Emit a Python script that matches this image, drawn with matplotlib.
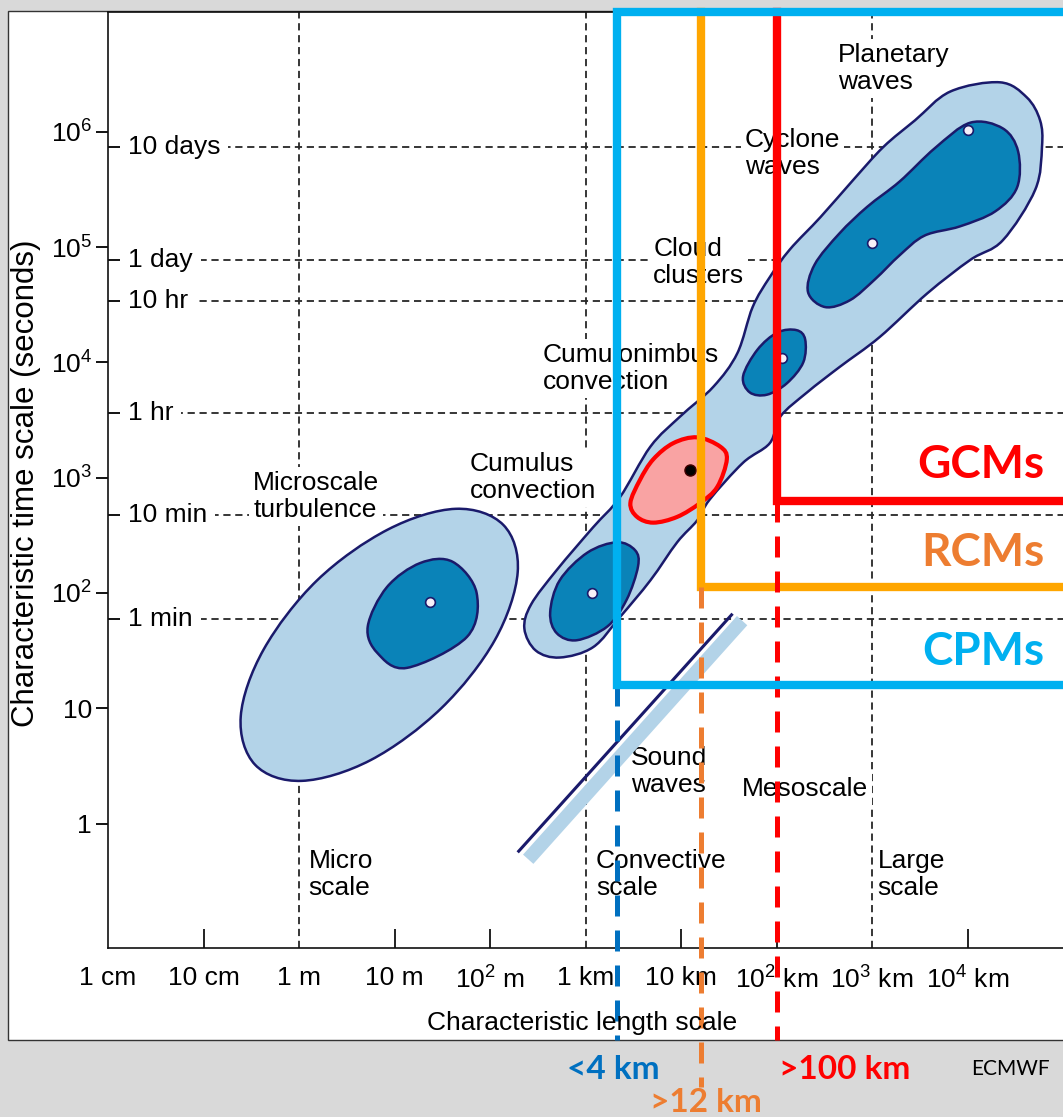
import numpy as np
import matplotlib
matplotlib.use("Agg")
import matplotlib.pyplot as plt
from matplotlib.path import Path
from matplotlib.patches import PathPatch, Rectangle

plt.rcParams['font.family'] = ['Liberation Sans', 'DejaVu Sans']
plt.rcParams['mathtext.fontset'] = 'custom'
plt.rcParams['mathtext.rm'] = 'Liberation Sans'

# both axes are in log10 units: x = log10(length / m), y = log10(time / s)
x_ticks = [-2, -1, 0, 1, 2, 3, 4, 5, 6, 7]
x_labels = ['1 cm', '10 cm', '1 m', '10 m', r'$\mathregular{10^2}$ m', '1 km',
            '10 km', r'$\mathregular{10^2}$ km', r'$\mathregular{10^3}$ km',
            r'$\mathregular{10^4}$ km']
y_ticks = [0, 1, 2, 3, 4, 5, 6]
y_labels = ['1', '10', r'$\mathregular{10^2}$', r'$\mathregular{10^3}$',
            r'$\mathregular{10^4}$', r'$\mathregular{10^5}$', r'$\mathregular{10^6}$']

time_names = ['10 days', '1 day', '10 hr', '1 hr', '10 min', '1 min']
time_levels = [5.87, 4.89, 4.53, 3.56, 2.68, 1.77]
scale_bounds = [0, 3, 6]          # 1 m, 1 km, 1000 km

# phenomena outlines (x, y)
micro_outer = [(2.14, 2.59), (1.64, 2.73), (0.93, 2.55), (0.19, 2.11), (-0.37, 1.51),
               (-0.61, 0.93), (-0.46, 0.51), (0.03, 0.37), (0.75, 0.55), (1.49, 1.00),
               (2.05, 1.59), (2.29, 2.18)]
micro_inner = [(1.61, 2.27), (1.86, 2.00), (1.76, 1.62), (1.13, 1.35), (0.82, 1.48),
               (0.72, 1.71), (0.92, 2.05), (1.27, 2.26)]

convective_outer = [(2.36, 1.69), (2.43, 1.90), (2.70, 2.20), (3.08, 2.57), (3.36, 2.83),
                    (3.68, 3.27), (3.99, 3.53), (4.34, 3.79), (4.59, 4.08), (4.75, 4.48),
                    (4.93, 4.74), (5.14, 4.98), (5.46, 5.26), (5.80, 5.58), (6.12, 5.87),
                    (6.45, 6.10), (6.82, 6.35), (7.34, 6.43), (7.62, 6.30), (7.76, 6.10),
                    (7.78, 5.87), (7.71, 5.50), (7.37, 5.06), (7.03, 4.89), (6.58, 4.60),
                    (6.08, 4.22), (5.66, 3.96), (5.32, 3.74), (5.04, 3.53), (4.93, 3.30),
                    (4.65, 3.13), (4.30, 2.81), (4.17, 2.63), (3.96, 2.44), (3.68, 2.11),
                    (3.36, 1.79), (3.08, 1.53), (2.73, 1.44), (2.48, 1.50)]
cumulus_inner = [(2.63, 1.83), (2.73, 2.11), (3.02, 2.35), (3.33, 2.44), (3.52, 2.37),
                 (3.55, 2.23), (3.43, 1.94), (3.23, 1.71), (2.91, 1.59), (2.70, 1.65)]
cumulonimbus_inner = [(4.65, 3.88), (4.80, 4.11), (5.01, 4.26), (5.21, 4.28), (5.30, 4.20),
                      (5.28, 4.00), (5.11, 3.82), (4.90, 3.72), (4.72, 3.74)]
synoptic_inner = [(5.33, 4.61), (5.40, 4.85), (5.66, 5.12), (5.95, 5.35), (6.29, 5.57),
                  (6.66, 5.86), (7.03, 6.08), (7.37, 6.03), (7.53, 5.83), (7.52, 5.52),
                  (7.29, 5.31), (6.92, 5.18), (6.55, 5.10), (6.29, 4.93), (6.03, 4.72),
                  (5.77, 4.54), (5.51, 4.48)]
cumulus_cpm = [(3.54, 2.66), (3.47, 2.78), (3.57, 2.98), (3.71, 3.16), (3.92, 3.30),
               (4.17, 3.35), (4.41, 3.27), (4.48, 3.16), (4.38, 2.92), (4.20, 2.78),
               (3.96, 2.66), (3.71, 2.61)]

peak_x = [1.37, 3.07, 5.06, 6.00, 7.01]
peak_y = [1.92, 2.00, 4.04, 5.04, 6.02]
cpm_peak = (4.09, 3.07)

sound_line_x = [2.29, 4.54]
sound_line_y = [-0.25, 1.82]
sound_band_x = [2.40, 4.64]
sound_band_y = [-0.31, 1.76]

labels = [('Planetary\nwaves', 5.64, 6.55), ('Cyclone\nwaves', 4.67, 5.81),
          ('Cloud\nclusters', 3.71, 4.87), ('Cumulonimbus\nconvection', 2.55, 3.95),
          ('Cumulus\nconvection', 1.79, 3.00), ('Microscale\nturbulence', -0.48, 2.84),
          ('Sound\nwaves', 3.48, 0.45), ('Mesoscale', 4.64, 0.30),
          ('Micro\nscale', 0.10, -0.44), ('Convective\nscale', 3.11, -0.44),
          ('Large\nscale', 6.06, -0.44)]

# model resolution limits
cpm_x, rcm_x, gcm_x = 3.33, 4.21, 5.00
cpm_floor, rcm_floor, gcm_floor = 1.20, 2.05, 2.80

light_blue = '#b3d3e8'
dark_blue = '#0a83b8'
navy = '#1a1a6b'
grid_col = '#262626'
blue, orange, red = '#00b0f0', '#ffa600', '#ff0000'
orange_dark, blue_dark = '#ed7d31', '#0070c0'

xmin, xmax = -2, 8
ymin, ymax = -1.08, 7.04


def smooth_closed(pts):
    # closed Catmull-Rom outline written as cubic Bezier segments
    p = np.asarray(pts, float)
    n = len(p)
    verts, codes = [p[0]], [Path.MOVETO]
    for i in range(n):
        p0, p1, p2, p3 = p[i - 1], p[i], p[(i + 1) % n], p[(i + 2) % n]
        verts += [p1 + (p2 - p0) / 6, p2 - (p3 - p1) / 6, p2]
        codes += [Path.CURVE4] * 3
    verts.append(p[0])
    codes.append(Path.CLOSEPOLY)
    return Path(verts, codes)


fig = plt.figure(figsize=(10.63, 11.17), dpi=100)
fig.patch.set_facecolor('#d9d9d9')
fig.add_artist(Rectangle((8 / 1063, 1 - 1040 / 1117), 1.2, 1029 / 1117,
                         transform=fig.transFigure, facecolor='white',
                         edgecolor='#333333', lw=1.0, zorder=-1))

ax = fig.add_axes([108 / 1063, 1 - 948 / 1117, 955 / 1063, 936 / 1117])
ax.set_facecolor('none')
ax.set_xlim(xmin, xmax)
ax.set_ylim(ymin, ymax)
ax.spines['right'].set_visible(False)
for s in ['left', 'top', 'bottom']:
    ax.spines[s].set_linewidth(1.2)
    ax.spines[s].set_color('#111111')

ax.set_xticks(x_ticks)
ax.set_xticklabels(x_labels, fontsize=19)
ax.tick_params(axis='x', direction='in', length=14, width=1.3, pad=13, color='#111111')
for i, t in enumerate(ax.xaxis.get_major_ticks()):
    if x_ticks[i] in scale_bounds or x_ticks[i] == xmin:
        t.tick1line.set_visible(False)

ax.set_yticks(y_ticks)
ax.set_yticklabels(y_labels, fontsize=19)
ax.tick_params(axis='y', which='major', direction='out', length=8.5, width=1.3, pad=3)
ax.set_yticks(time_levels, minor=True)
ax.tick_params(axis='y', which='minor', direction='in', length=8.5, width=1.3)

# reference grid
dash = (0, (4, 2.6))
ax.hlines(time_levels, -1.79, xmax, colors=grid_col, lw=1.3, linestyles=[dash], zorder=1)
ax.vlines(scale_bounds, ymin, ymax, colors=grid_col, lw=1.3, linestyles=[dash], zorder=1)

box = dict(boxstyle='square,pad=0.15', fc='white', ec='none')
for name, lev in zip(time_names, time_levels):
    ax.text(-1.79, lev, name, fontsize=19, ha='left', va='center', zorder=2,
            bbox=dict(boxstyle='square,pad=0.3', fc='white', ec='none'))
for s, x, y in labels:
    ax.text(x, y, s, fontsize=19, ha='left', va='center', linespacing=1.15,
            zorder=2, bbox=box)

# phenomena
for pts, col, z in [(micro_outer, light_blue, 3), (micro_inner, dark_blue, 4),
                    (convective_outer, light_blue, 3), (cumulus_inner, dark_blue, 4),
                    (cumulonimbus_inner, dark_blue, 4), (synoptic_inner, dark_blue, 4)]:
    ax.add_patch(PathPatch(smooth_closed(pts), facecolor=col, edgecolor=navy,
                           lw=1.8, zorder=z))
ax.add_patch(PathPatch(smooth_closed(cumulus_cpm), facecolor='#f9a3a3',
                       edgecolor=red, lw=3.0, zorder=4))
ax.plot(peak_x, peak_y, 'o', ms=7, mfc='#f6f0f8', mec=navy, mew=1.2, zorder=5)
ax.plot(*cpm_peak, 'o', ms=8, mfc='black', mec='#400000', mew=1, zorder=5)

ax.plot(sound_band_x, sound_band_y, color=light_blue, lw=10, solid_capstyle='butt', zorder=3)
ax.plot(sound_line_x, sound_line_y, color=navy, lw=2.2, solid_capstyle='butt', zorder=3)

fig.text(26 / 1063, 1 - 483 / 1117, 'Characteristic time scale (seconds)',
         rotation=90, ha='center', va='center', fontsize=22.5)
fig.text(582 / 1063, 1 - 1023 / 1117, 'Characteristic length scale',
         ha='center', va='center', fontsize=19)

# model domains
edge = xmax + 0.3
ax.plot([rcm_x, rcm_x, edge], [ymax, rcm_floor, rcm_floor], color=orange, lw=6,
        solid_joinstyle='miter', clip_on=False, zorder=6)
ax.plot([gcm_x, gcm_x, edge], [ymax, gcm_floor, gcm_floor], color=red, lw=6,
        solid_joinstyle='miter', clip_on=False, zorder=6)
ax.plot([edge, cpm_x, cpm_x, edge], [ymax, ymax, cpm_floor, cpm_floor], color=blue,
        lw=6, solid_joinstyle='miter', clip_on=False, zorder=7)

dash2 = (0, (4.2, 2.8))
ax.plot([cpm_x, cpm_x], [cpm_floor, -1.875], color=blue_dark, lw=3.6, ls=dash2,
        clip_on=False, zorder=6)
ax.plot([rcm_x, rcm_x], [rcm_floor, -2.29], color=orange_dark, lw=3.6, ls=dash2,
        clip_on=False, zorder=6)
ax.plot([gcm_x, gcm_x], [gcm_floor, -1.875], color=red, lw=3.6, ls=dash2,
        clip_on=False, zorder=6)

big = dict(fontsize=33, fontweight='bold', family='Lato', ha='right', va='center', zorder=8)
ax.text(7.81, 3.11, 'GCMs', color=red, **big)
ax.text(7.81, 2.35, 'RCMs', color=orange_dark, **big)
ax.text(7.81, 1.49, 'CPMs', color=blue, **big)

small = dict(fontsize=24, fontweight='bold', family='Lato', va='center')
ax.text(cpm_x - 0.04, -2.135, '<4 km', color=blue_dark, ha='center', **small)
ax.text(rcm_x + 0.05, -2.42, '>12 km', color=orange_dark, ha='center', **small)
ax.text(gcm_x + 0.03, -2.135, '>100 km', color=red, ha='left', **small)
fig.text(1010 / 1063, 1 - 1069 / 1117, 'ECMWF', family='Lato', fontsize=15,
         ha='center', va='center')

fig.savefig('out.png', dpi=100)
